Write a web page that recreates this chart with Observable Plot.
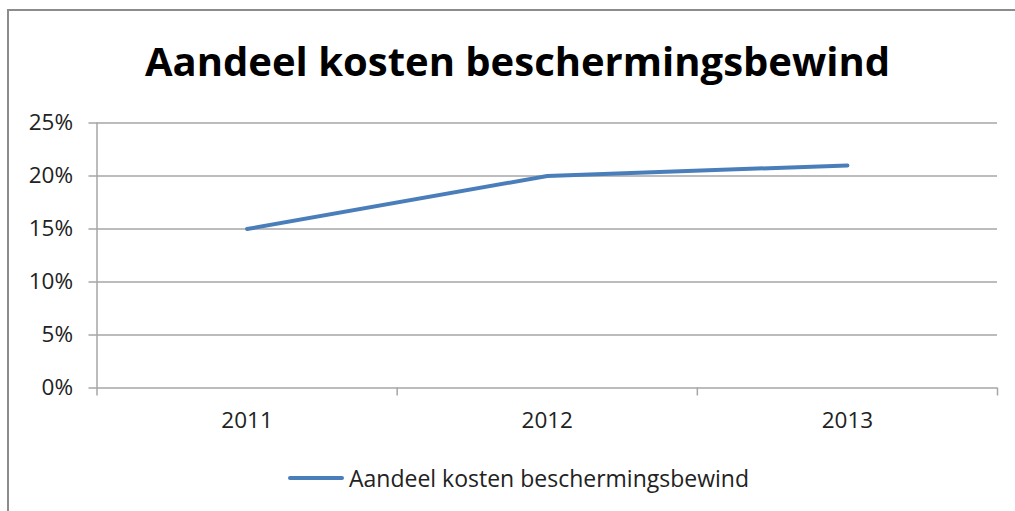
<!DOCTYPE html>
<html>
<head>
<meta charset="utf-8">
<script src="https://cdn.jsdelivr.net/npm/d3@7"></script>
<script src="https://cdn.jsdelivr.net/npm/@observablehq/plot@0.6"></script>
<style>
  html, body { margin: 0; padding: 0; background: #fff; }
  #wrap { position: relative; width: 1015px; height: 511px; overflow: hidden; font-family: "Open Sans", sans-serif; }
  #frame { position: absolute; left: 7px; top: 9px; width: 1100px; height: 600px; border-top: 2px solid #8c8c8c; border-left: 2px solid #8c8c8c; }
  #title { position: absolute; left: 0; width: 1035px; top: 34px; text-align: center; font-weight: bold; font-size: 40px; line-height: 54px; color: #000; white-space: nowrap; }
  #legend { position: absolute; left: 288px; top: 464px; height: 28px; display: flex; align-items: center; font-size: 23px; color: #222; white-space: nowrap; }
  #legend .sw { width: 56px; height: 4px; background: #4a7ebb; border-radius: 2px; margin-right: 5px; }
  #chart { position: absolute; left: 0; top: 0; }
</style>
</head>
<body>
<div id="wrap">
  <div id="frame"></div>
  <div id="chart"></div>
  <div id="title">Aandeel kosten beschermingsbewind</div>
  <div id="legend"><span class="sw"></span><span>Aandeel kosten beschermingsbewind</span></div>
</div>
<script>
const seriesName = "Aandeel kosten beschermingsbewind";
const years = [2011, 2012, 2013];
const shares = [0.15, 0.20, 0.21];
const yTicks = [0, 0.05, 0.10, 0.15, 0.20, 0.25];
const xBoundaries = [2010.5, 2011.5, 2012.5, 2013.5];

const data = years.map((y, i) => ({year: y, share: shares[i], series: seriesName}));

const chart = Plot.plot({
  width: 1015,
  height: 511,
  marginLeft: 96.5,
  marginRight: 18,
  marginTop: 122.5,
  marginBottom: 123.5,
  style: {fontFamily: "'Open Sans', sans-serif", fontSize: "22.5px", color: "#222", background: "transparent"},
  x: {domain: [2010.5, 2013.5], label: null},
  y: {domain: [0, 0.25], label: null},
  marks: [
    Plot.ruleY(yTicks, {stroke: "#a6a6a6", strokeWidth: 1.5, insetLeft: -8}),
    Plot.ruleX([2010.5], {y1: 0, y2: 0.25, stroke: "#a6a6a6", strokeWidth: 1.5}),
    Plot.axisY({ticks: yTicks, tickFormat: d => Math.round(d * 100) + "%", tickSize: 0, tickPadding: 24, fill: "#222", label: null}),
    Plot.axisX({ticks: xBoundaries, tickFormat: () => "", tickSize: 8, stroke: "#a6a6a6", strokeWidth: 1.5, label: null}),
    Plot.axisX({ticks: years, tickFormat: d => String(d), tickSize: 0, tickPadding: 24, fill: "#222", label: null}),
    Plot.line(data, {x: "year", y: "share", stroke: "#4a7ebb", strokeWidth: 4, strokeLinecap: "round", strokeLinejoin: "round"})
  ]
});
document.getElementById("chart").appendChild(chart);
</script>
</body>
</html>
